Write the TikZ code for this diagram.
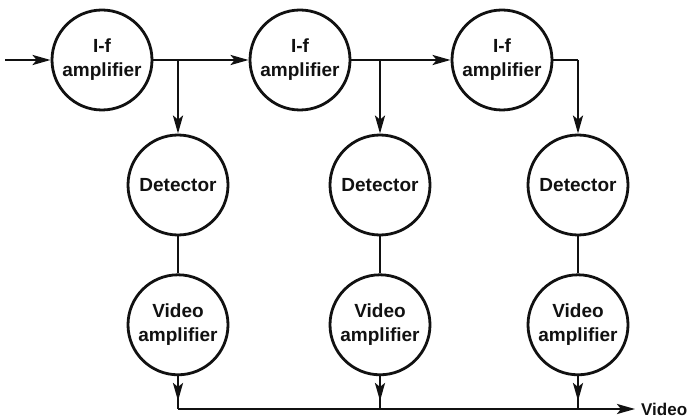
\documentclass[tikz,border=0pt]{standalone}
\usepackage{fontspec}
\setmainfont{Liberation Sans}
\usetikzlibrary{positioning, arrows.meta, calc}

\begin{document}
\begin{tikzpicture}[
    x=1pt, y=1pt,
    node distance=37pt,
    >={Stealth[length=18pt, width=10pt, inset=4pt]},
    stage/.style={
        circle,
        draw=#1,
        line width=2.8pt,
        fill=white,
        minimum size=100pt,
        inner sep=0pt,
        align=center,
        font=\fontsize{19}{24}\selectfont\bfseries\color{#1}
    },
    arrow/.style={
        ->,
        line width=2.6pt,
        draw=#1
    },
    line/.style={
        line width=2.6pt,
        draw=#1
    }
]

% Colors
\definecolor{ink_color}{HTML}{111111}

% Frame
\useasboundingbox (0,0) rectangle (690,418);

% I-f stages
\node[stage=ink_color] (IF1) at (102,358) {I-f\\amplifier};
\node[stage=ink_color] (IF2) at (300,358) {I-f\\amplifier};
\node[stage=ink_color] (IF3) at (502,358) {I-f\\amplifier};

% Detectors
\node[stage=ink_color] (D1) at (178,233) {Detector};
\node[stage=ink_color] (D2) at (380,233) {Detector};
\node[stage=ink_color] (D3) at (578,233) {Detector};

% Video amplifiers
\node[stage=ink_color, below=of D1] (V1) {Video\\amplifier};
\node[stage=ink_color, below=of D2] (V2) {Video\\amplifier};
\node[stage=ink_color, below=of D3] (V3) {Video\\amplifier};

% Output label
\node[font=\fontsize{17}{22}\selectfont\bfseries\color{ink_color}, anchor=west, inner sep=0pt] (out) at (641,9) {Video};

% Coordinates
\coordinate (in) at (5,358);
\coordinate (bus1) at (V1.south |- out.west);
\coordinate (bus2) at (V2.south |- out.west);
\coordinate (bus3) at (V3.south |- out.west);
\coordinate (corner) at (D3.north |- IF3.east);

% Chain arrows
\draw[arrow=ink_color] (in) -- (IF1.west);
\draw[arrow=ink_color] (IF1.east) -- (IF2.west);
\draw[arrow=ink_color] (IF2.east) -- (IF3.west);
\draw[arrow=ink_color] (D1.north |- IF1.east) -- (D1.north);
\draw[arrow=ink_color] (D2.north |- IF2.east) -- (D2.north);
\draw[line=ink_color] (IF3.east) -- (corner);
\draw[arrow=ink_color] (corner) -- (D3.north);

% Detector to video
\draw[line=ink_color] (D1.south) -- (V1.north);
\draw[line=ink_color] (D2.south) -- (V2.north);
\draw[line=ink_color] (D3.south) -- (V3.north);

% Output bus
\draw[line=ink_color] (V1.south) -- (bus1);
\draw[line=ink_color] (V2.south) -- (bus2);
\draw[line=ink_color] (V3.south) -- (bus3);
\draw[arrow=ink_color, shorten >=8pt] (V1.south) -- (bus1);
\draw[arrow=ink_color, shorten >=8pt] (V2.south) -- (bus2);
\draw[arrow=ink_color, shorten >=8pt] (V3.south) -- (bus3);
\draw[arrow=ink_color, shorten >=6pt] (bus1) -- (out.west);

\end{tikzpicture}
\end{document}
